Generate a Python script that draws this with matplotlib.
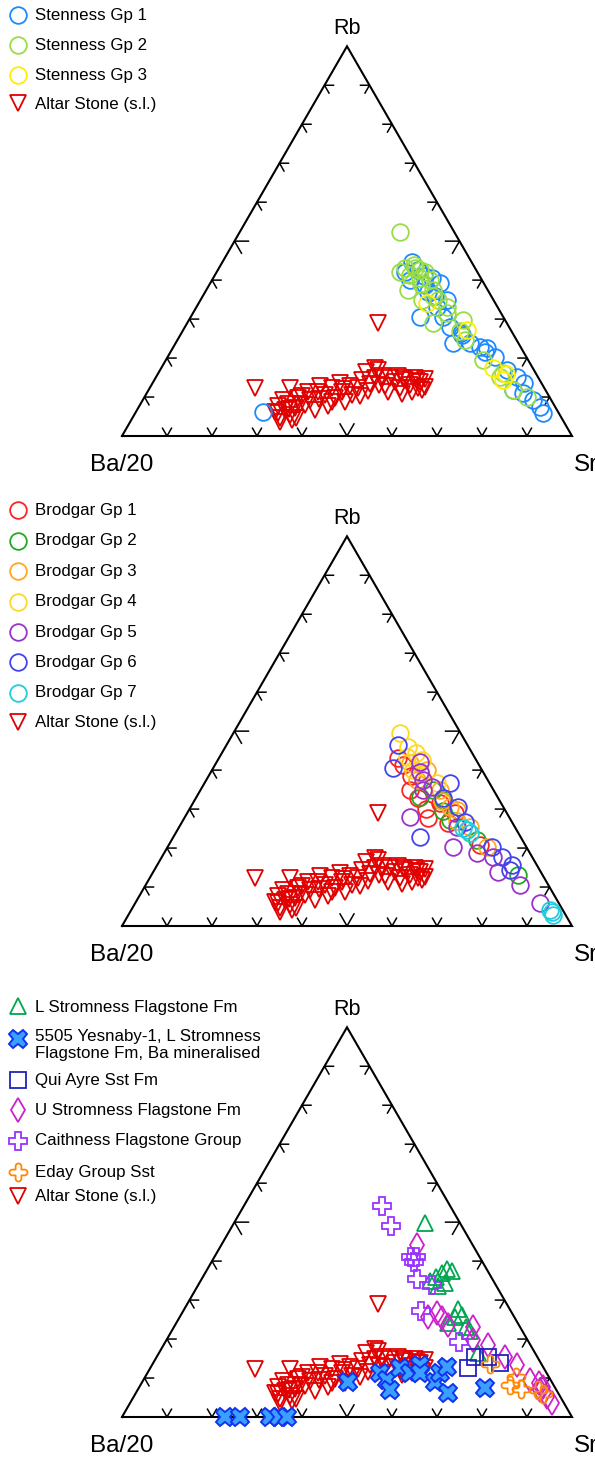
import numpy as np
import matplotlib
matplotlib.use("Agg")
import matplotlib.pyplot as plt
from matplotlib.path import Path

plt.rcParams['font.family'] = ['Liberation Sans', 'DejaVu Sans']

# ternary data, percent of (Rb, Sr, Ba/20); Ba/20 = 100 - Rb - Sr
altar_rb = [29.0, 12.3, 6.2, 4.6, 6.7, 5.4, 7.2, 8.2, 8.2, 7.7, 4.1, 9.2, 9.8, 12.3, 8.0,
            9.2, 11.3, 12.8, 10.5, 7.7, 12.3, 9.8, 13.6, 11.3, 8.7, 12.8, 10.5, 12.3, 14.4,
            16.4, 13.3, 14.9, 16.9, 15.4, 12.8, 14.9, 13.9, 12.3, 14.4, 13.1, 14.9, 13.9,
            11.8, 11.3, 10.8, 11.3, 10.3, 6.7, 8.7, 10.3, 11.3, 15.4, 12.3, 17.4, 3.6, 4.6,
            5.9, 7.0, 9.5, 12.0, 13.0, 15.0, 14.0, 12.5, 11.5, 14.5]
altar_sr = [42.4, 23.4, 30.9, 32.8, 32.9, 34.6, 34.8, 35.5, 32.8, 30.8, 35.7, 31.2, 34.2, 31.2, 36.7,
            37.2, 37.9, 37.6, 39.9, 41.9, 40.5, 42.4, 41.6, 43.2, 45.2, 44.3, 45.9, 46.3, 46.1,
            46.0, 48.5, 48.8, 48.5, 50.1, 52.0, 52.1, 53.7, 55.6, 55.7, 57.4, 57.6, 59.2,
            60.8, 58.8, 56.8, 35.7, 34.8, 39.5, 42.3, 47.7, 53.5, 53.6, 59.6, 47.5, 33.3, 36.4,
            31.8, 33.5, 39.0, 43.0, 50.5, 55.0, 58.5, 61.0, 49.0, 60.0]

sten1_rb = [6.2, 44.6, 42.1, 40.0, 42.6, 38.7, 40.5, 39.3, 35.9, 34.9, 30.5, 30.5, 28.0, 23.9,
            23.9, 22.8, 22.6, 20.3, 16.9, 15.1, 11.8, 11.0, 9.2, 7.4, 5.9, 25.9, 41.0, 37.0,
            33.0, 26.5, 21.5, 13.5]
sten1_sr = [28.2, 42.1, 41.8, 44.0, 44.5, 48.0, 48.6, 51.0, 51.6, 54.7, 51.0, 56.1, 58.9, 61.6,
            65.4, 68.2, 69.8, 72.7, 77.1, 80.2, 81.0, 83.6, 86.7, 89.2, 90.6, 62.6, 46.5, 49.5,
            53.5, 62.0, 70.0, 82.5]
sten2_rb = [52.3, 42.1, 43.1, 41.3, 43.1, 40.5, 42.1, 40.0, 37.5, 34.9, 33.1, 29.0, 29.8, 24.6,
            19.5, 16.2, 15.1, 11.8, 10.0, 37.5, 34.9, 44.0, 42.5, 39.0, 36.0, 31.5, 27.0]
sten2_sr = [35.6, 40.7, 41.3, 43.4, 43.5, 46.0, 46.3, 48.4, 50.4, 52.8, 55.7, 54.6, 60.9, 63.9,
            70.5, 76.6, 76.5, 81.0, 85.0, 44.8, 49.2, 42.8, 45.0, 47.0, 51.0, 56.5, 61.5]
sten3_rb = [34.1, 27.2, 17.4, 14.4, 15.9]
sten3_sr = [50.8, 63.1, 73.7, 77.5, 77.4]

brod1_rb = [43.1, 34.9, 27.7, 26.4, 29.0, 20.8, 32.8, 31.6, 41.3, 38.5, 30.0]
brod1_sr = [39.8, 46.6, 54.2, 59.2, 59.5, 69.2, 49.4, 54.9, 41.8, 45.0, 52.5]
brod2_rb = [33.1, 32.3, 22.1, 13.1, 27.2, 34.9, 29.5]
brod2_sr = [49.7, 55.2, 67.9, 81.5, 59.3, 51.7, 56.5]
brod3_rb = [41.8, 37.5, 30.5, 29.8, 25.4, 20.3, 40.0, 34.9, 32.0, 27.0]
brod3_sr = [43.1, 46.8, 57.7, 59.5, 64.6, 71.0, 47.8, 53.2, 55.0, 61.0]
brod4_rb = [49.5, 45.9, 42.6, 40.0, 36.7, 43.4, 39.0, 44.5]
brod4_sr = [37.1, 40.6, 45.4, 44.7, 51.7, 41.6, 47.0, 43.0]
brod5_rb = [28.0, 20.3, 18.7, 13.9, 10.5, 5.9, 42.1, 34.9, 37.5, 35.7, 25.4, 17.7, 39.5]
brod5_sr = [50.0, 63.4, 69.6, 76.6, 83.2, 90.0, 45.2, 49.4, 48.2, 51.1, 61.7, 73.6, 46.5]
brod6_rb = [46.4, 40.5, 36.7, 30.5, 22.8, 32.8, 26.7, 20.3, 17.7, 15.7, 14.4]
brod6_sr = [38.1, 40.0, 54.6, 59.5, 54.8, 54.9, 62.9, 72.1, 75.6, 78.9, 79.0]
brod7_rb = [25.1, 23.9, 24.6, 3.6, 2.8, 4.1]
brod7_sr = [63.3, 65.4, 64.4, 93.8, 94.4, 93.1]

lstrom_rb = [49.8, 34.9, 35.9, 37.0, 38.0, 34.4, 33.6, 37.5, 27.7, 26.2, 25.7, 24.1, 22.1, 16.4, 23.1]
lstrom_sr = [42.4, 51.0, 51.8, 52.6, 53.2, 54.6, 53.4, 54.6, 60.8, 62.5, 61.2, 60.4, 66.3, 70.9, 64.9]
yesnaby_rb = [0, 0, 0, 0, 0, 9.0, 11.3, 9.5, 6.9, 12.6, 11.3, 13.3, 11.3, 9.0, 11.3, 12.8, 6.2, 7.4]
yesnaby_sr = [22.9, 26.2, 32.9, 34.9, 36.7, 45.7, 51.7, 54.1, 56.1, 55.5, 58.3, 59.5, 60.6, 65.1,
              65.0, 65.8, 69.3, 77.0]
quiayre_rb = [15.4, 12.6, 15.4, 13.9]
quiayre_sr = [70.7, 70.6, 73.6, 77.0]
ustrom_rb = [44.1, 25.7, 26.7, 25.4, 23.6, 23.1, 19.8, 18.5, 15.4, 13.3, 9.5, 6.9, 5.1, 3.6, 7.7, 8.7]
ustrom_sr = [43.5, 55.1, 56.6, 58.4, 60.6, 66.4, 68.1, 72.1, 77.4, 81.1, 85.9, 89.4, 91.9, 93.8,
             89.7, 88.3]
caith_rb = [54.1, 49.0, 41.1, 41.1, 39.8, 35.4, 27.2, 19.2, 33.9]
caith_sr = [30.7, 35.3, 43.7, 44.8, 45.0, 47.9, 52.8, 65.3, 52.0]
eday_rb = [13.6, 8.2, 10.3, 7.2, 6.9, 5.9]
eday_sr = [75.0, 82.1, 82.4, 85.1, 89.0, 90.6]

S = np.sqrt(3) / 2
W, H = 595, 1458


def tern_xy(rb, sr):
    rb = np.asarray(rb, float) / 100
    sr = np.asarray(sr, float) / 100
    return sr + rb / 2, rb * S


def rounded_plus(w=0.32, reach=1.0):
    # plus sign with round arm ends, traced counter-clockwise
    c = reach - w
    verts = []
    for k in range(4):
        a = k * np.pi / 2
        rot = np.array([[np.cos(a), -np.sin(a)], [np.sin(a), np.cos(a)]])
        local = [(w, -w)] + [(c + w * np.cos(t), w * np.sin(t))
                             for t in np.linspace(-np.pi / 2, np.pi / 2, 13)]
        verts += [tuple(rot @ np.array(p)) for p in local]
    verts.append(verts[0])
    return Path(verts, closed=True)


def make_triangle(base_y):
    ax = fig.add_axes([122 / W, 1 - base_y / H, 450 / W, 450 * S / H])
    ax.set_xlim(0, 1)
    ax.set_ylim(0, S)
    ax.axis('off')
    ax.plot([0, 1, 0.5, 0], [0, 0, S, 0], color='black', lw=1.5, clip_on=False,
            solid_joinstyle='miter')
    for i in range(1, 10):
        f = i / 10
        L = 0.031 if i == 5 else 0.02
        pts = [((f, 0), (0.5, S), (-0.5, S)),
               ((f / 2, f * S), (1, 0), (0.5, -S)),
               ((1 - f / 2, f * S), (-1, 0), (-0.5, -S))]
        for (px, py), a1, a2 in pts:
            ax.plot([px + L * a1[0], px, px + L * a2[0]],
                    [py + L * a1[1], py, py + L * a2[1]],
                    color='black', lw=1.1, clip_on=False)
    ax.text(0.5, S + 0.04, 'Rb', ha='center', va='center', fontsize=15.5)
    ax.text(0.0, -0.065, 'Ba/20', ha='center', va='center', fontsize=17.5)
    ax.text(1.03, -0.065, 'Sr', ha='center', va='center', fontsize=17.5)
    return ax


def scatter(ax, rb, sr, style):
    x, y = tern_xy(rb, sr)
    ax.plot(x, y, linestyle='none', clip_on=False, **style)


def legend(entries, x0, rows):
    for (label, style), y in zip(entries, rows):
        ov.plot([x0], [y[0]], linestyle='none', clip_on=False, **style)
        ov.text(x0 + 17, y[1], label, ha='left', va='center', fontsize=12.2,
                linespacing=1.2)


def circ(c):
    return dict(marker='o', ms=12, mfc='none', mec=c, mew=1.3)


altar_style = dict(marker='v', ms=11.5, mfc='none', mec='#e00000', mew=1.3)

fig = plt.figure(figsize=(W / 100, H / 100), dpi=100)
ov = fig.add_axes([0, 0, 1, 1])
ov.set_xlim(0, W)
ov.set_ylim(H, 0)
ov.axis('off')

# panel 1: Stenness
ax1 = make_triangle(436)
scatter(ax1, altar_rb, altar_sr, altar_style)
scatter(ax1, sten1_rb, sten1_sr, circ('#1e88ff'))
scatter(ax1, sten2_rb, sten2_sr, circ('#99dd44'))
scatter(ax1, sten3_rb, sten3_sr, circ('#ffee00'))
legend([('Stenness Gp 1', circ('#1e88ff')), ('Stenness Gp 2', circ('#99dd44')),
        ('Stenness Gp 3', circ('#ffee00')), ('Altar Stone (s.l.)', altar_style)],
       18, [(15, 15), (45, 45), (75, 75), (103, 104)])

# panel 2: Brodgar
ax2 = make_triangle(926)
brod_cols = ['#ff2222', '#22aa22', '#ffa820', '#ffd820', '#9933cc', '#4444ee', '#22ccdd']
brod = [(brod1_rb, brod1_sr), (brod2_rb, brod2_sr), (brod3_rb, brod3_sr), (brod4_rb, brod4_sr),
        (brod5_rb, brod5_sr), (brod6_rb, brod6_sr), (brod7_rb, brod7_sr)]
scatter(ax2, altar_rb, altar_sr, altar_style)
for (rb, sr), c in zip(brod, brod_cols):
    scatter(ax2, rb, sr, circ(c))
rows2 = [510, 540.5, 571, 601.5, 632, 662, 692.5, 722]
legend([('Brodgar Gp %d' % (i + 1), circ(c)) for i, c in enumerate(brod_cols)]
       + [('Altar Stone (s.l.)', altar_style)], 18, [(r, r) for r in rows2])

# panel 3: other sources
ax3 = make_triangle(1417)
lstrom_style = dict(marker='^', ms=11.5, mfc='none', mec='#00a650', mew=1.3)
yes_style = dict(marker='X', ms=13, mfc='#3aa0ff', mec='#1133ee', mew=1.4)
qui_style = dict(marker='s', ms=11.5, mfc='none', mec='#2222bb', mew=1.3)
ustrom_style = dict(marker='d', ms=12.5, mfc='none', mec='#cc22cc', mew=1.3)
caith_style = dict(marker='P', ms=12.5, mfc='none', mec='#9933ff', mew=1.3)
eday_style = dict(marker=rounded_plus(), ms=13, mfc='none', mec='#ff8800', mew=1.3)
scatter(ax3, altar_rb, altar_sr, altar_style)
scatter(ax3, lstrom_rb, lstrom_sr, lstrom_style)
scatter(ax3, ustrom_rb, ustrom_sr, ustrom_style)
scatter(ax3, caith_rb, caith_sr, caith_style)
scatter(ax3, quiayre_rb, quiayre_sr, qui_style)
scatter(ax3, eday_rb, eday_sr, eday_style)
scatter(ax3, yesnaby_rb, yesnaby_sr, yes_style)
legend([('L Stromness Flagstone Fm', lstrom_style),
        ('5505 Yesnaby-1, L Stromness\nFlagstone Fm, Ba mineralised', yes_style),
        ('Qui Ayre Sst Fm', qui_style),
        ('U Stromness Flagstone Fm', ustrom_style),
        ('Caithness Flagstone Group', caith_style),
        ('Eday Group Sst', eday_style),
        ('Altar Stone (s.l.)', altar_style)],
       18, [(1006, 1007), (1039, 1045), (1080, 1080), (1110, 1110), (1141, 1141),
            (1172, 1172), (1196, 1197)])

fig.savefig('out.png', dpi=100)
